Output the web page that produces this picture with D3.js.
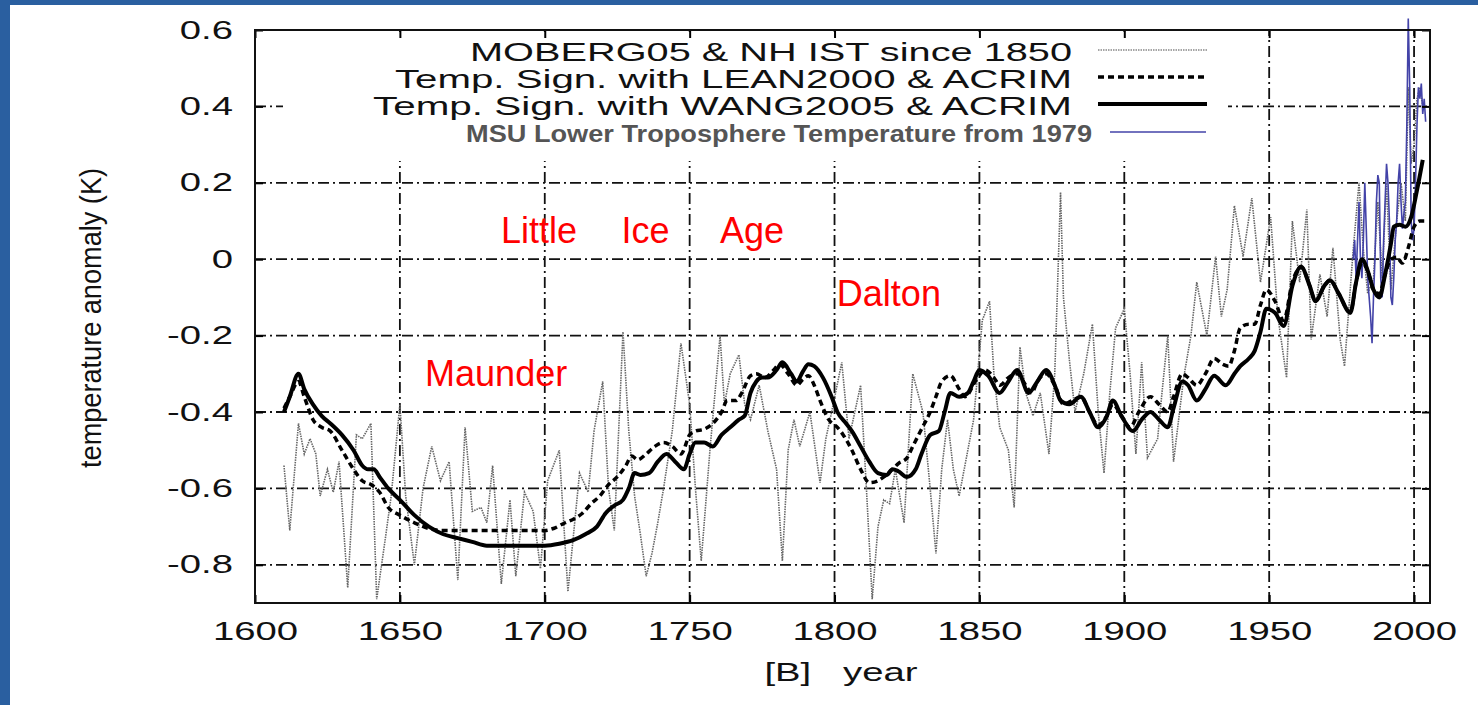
<!DOCTYPE html>
<html>
<head>
<meta charset="utf-8">
<script src="https://cdn.jsdelivr.net/npm/d3@7"></script>
<style>
    html, body { margin: 0; padding: 0; background: #fff; }
    svg { display: block; font-family: 'Liberation Sans', Arial, sans-serif; }
</style>
</head>
<body>
<svg id="Chart"></svg>
<script>
// ---- data ----
let wangYears = [1610, 1612, 1615, 1617, 1620, 1623, 1626, 1630, 1634, 1637, 1639, 1641, 1643, 1646, 1650, 1655, 1660, 1665, 1670, 1675, 1680, 1690, 1700, 1705, 1710, 1714, 1718, 1721, 1724, 1727, 1729, 1731, 1733, 1736, 1739, 1742, 1745, 1748, 1750, 1752, 1755, 1758, 1761, 1764, 1767, 1769, 1771, 1773, 1775, 1777, 1780, 1782, 1785, 1787, 1789, 1791, 1793, 1796, 1799, 1801, 1804, 1806, 1809, 1812, 1815, 1818, 1820, 1822, 1825, 1828, 1830, 1833, 1836, 1838, 1840, 1843, 1846, 1848, 1850, 1853, 1857, 1860, 1863, 1867, 1870, 1873, 1876, 1878, 1881, 1885, 1888, 1891, 1894, 1896, 1899, 1903, 1906, 1909, 1912, 1915, 1917, 1920, 1922, 1925, 1928, 1931, 1935, 1938, 1940, 1943, 1945, 1947, 1949, 1952, 1955, 1958, 1961, 1964, 1966, 1969, 1971, 1974, 1978, 1980, 1982, 1984, 1986, 1988, 1990, 1992, 1993, 1995, 1997, 1999, 2001, 2003];
let wangValues = [-0.40, -0.36, -0.30, -0.34, -0.38, -0.41, -0.43, -0.46, -0.50, -0.54, -0.55, -0.55, -0.57, -0.60, -0.63, -0.67, -0.70, -0.72, -0.73, -0.74, -0.75, -0.75, -0.75, -0.745, -0.735, -0.72, -0.70, -0.665, -0.645, -0.63, -0.60, -0.56, -0.565, -0.56, -0.53, -0.51, -0.53, -0.55, -0.51, -0.48, -0.48, -0.49, -0.46, -0.44, -0.42, -0.41, -0.35, -0.32, -0.31, -0.31, -0.29, -0.27, -0.30, -0.32, -0.295, -0.275, -0.28, -0.31, -0.36, -0.40, -0.43, -0.45, -0.49, -0.53, -0.56, -0.565, -0.55, -0.555, -0.57, -0.55, -0.51, -0.46, -0.45, -0.40, -0.35, -0.36, -0.35, -0.32, -0.29, -0.305, -0.35, -0.32, -0.29, -0.35, -0.32, -0.29, -0.33, -0.37, -0.38, -0.36, -0.40, -0.44, -0.41, -0.37, -0.41, -0.45, -0.42, -0.40, -0.42, -0.44, -0.39, -0.32, -0.33, -0.37, -0.34, -0.305, -0.33, -0.30, -0.28, -0.26, -0.24, -0.19, -0.13, -0.14, -0.175, -0.07, -0.02, -0.07, -0.11, -0.07, -0.055, -0.09, -0.14, -0.06, 0.00, -0.03, -0.08, -0.10, -0.04, 0.04, 0.085, 0.09, 0.085, 0.11, 0.18, 0.26];

let leanYears = [1610, 1612, 1615, 1617, 1620, 1623, 1626, 1630, 1634, 1637, 1640, 1643, 1646, 1650, 1655, 1660, 1665, 1670, 1680, 1690, 1700, 1703, 1707, 1710, 1713, 1716, 1719, 1722, 1725, 1728, 1730, 1732, 1735, 1738, 1741, 1744, 1747, 1750, 1752, 1755, 1758, 1761, 1763, 1766, 1768, 1771, 1773, 1776, 1779, 1781, 1784, 1787, 1789, 1791, 1793, 1795, 1798, 1801, 1803, 1806, 1809, 1812, 1815, 1817, 1820, 1822, 1825, 1827, 1830, 1833, 1835, 1837, 1840, 1843, 1845, 1849, 1852, 1855, 1857, 1860, 1863, 1866, 1868, 1870, 1873, 1876, 1879, 1882, 1885, 1888, 1891, 1894, 1896, 1899, 1902, 1905, 1909, 1912, 1915, 1917, 1920, 1922, 1925, 1928, 1931, 1934, 1936, 1938, 1940, 1943, 1945, 1947, 1949, 1952, 1955, 1958, 1961, 1964, 1966, 1969, 1971, 1974, 1978, 1980, 1982, 1984, 1986, 1988, 1990, 1992, 1994, 1996, 1998, 2000, 2002, 2004];
let leanValues = [-0.39, -0.36, -0.32, -0.36, -0.42, -0.44, -0.45, -0.50, -0.55, -0.58, -0.59, -0.61, -0.65, -0.67, -0.69, -0.705, -0.71, -0.71, -0.71, -0.71, -0.71, -0.705, -0.69, -0.68, -0.665, -0.64, -0.62, -0.59, -0.57, -0.54, -0.515, -0.525, -0.51, -0.49, -0.48, -0.49, -0.51, -0.46, -0.45, -0.445, -0.43, -0.40, -0.37, -0.37, -0.35, -0.305, -0.30, -0.31, -0.29, -0.275, -0.30, -0.33, -0.315, -0.305, -0.33, -0.37, -0.42, -0.44, -0.46, -0.50, -0.55, -0.585, -0.58, -0.57, -0.55, -0.535, -0.52, -0.49, -0.445, -0.40, -0.36, -0.32, -0.305, -0.34, -0.36, -0.315, -0.29, -0.31, -0.33, -0.31, -0.30, -0.33, -0.35, -0.32, -0.30, -0.33, -0.38, -0.37, -0.36, -0.40, -0.435, -0.41, -0.38, -0.41, -0.44, -0.40, -0.36, -0.38, -0.40, -0.36, -0.30, -0.31, -0.33, -0.30, -0.26, -0.275, -0.28, -0.24, -0.18, -0.17, -0.17, -0.12, -0.08, -0.11, -0.16, -0.06, -0.02, -0.07, -0.11, -0.07, -0.055, -0.09, -0.14, -0.06, -0.01, -0.03, -0.08, -0.09, -0.04, 0.00, 0.005, -0.01, 0.03, 0.085, 0.10, 0.10];

let mobergYears = [1610, 1612, 1615, 1617, 1619, 1621, 1622.5, 1625, 1627, 1629, 1632, 1635, 1637, 1640, 1642, 1645, 1647, 1650, 1652, 1655, 1658, 1661, 1664, 1667, 1670, 1672.5, 1675, 1678, 1680, 1682, 1685, 1688, 1690, 1693, 1696, 1698.5, 1701, 1705, 1708, 1712, 1715, 1717, 1720, 1722, 1724, 1727, 1729, 1731, 1733, 1735, 1737, 1739, 1741, 1744, 1747, 1750, 1752, 1754, 1757, 1760.5, 1762, 1764, 1767, 1769, 1771, 1774, 1777, 1780, 1782, 1784, 1786, 1788, 1791.5, 1795, 1797, 1799, 1802.5, 1805, 1809, 1811, 1813, 1815, 1817, 1819, 1821, 1824, 1827, 1830.5, 1833, 1835, 1837, 1839, 1841, 1843, 1846, 1848, 1851, 1853.5, 1855, 1857, 1860, 1862, 1864, 1866, 1868.5, 1871, 1874, 1876, 1878, 1879, 1881, 1883, 1886, 1889, 1891, 1893, 1895, 1897, 1900, 1902, 1904, 1906, 1908, 1911.5, 1913, 1915, 1917, 1920.5, 1923, 1925, 1928.5, 1931.5, 1933.5, 1935.5, 1938, 1941, 1944, 1947, 1950.5, 1953, 1956, 1958, 1960.5, 1963, 1964.5, 1967.5, 1970, 1972, 1974.5, 1976, 1979, 1981, 1982.5, 1984, 1986, 1987.5, 1989, 1990.5, 1992, 1994, 1995.5, 1997, 1998, 1999, 2000, 2001, 2002, 2003];
let mobergValues = [-0.54, -0.71, -0.43, -0.51, -0.47, -0.51, -0.62, -0.55, -0.61, -0.53, -0.86, -0.46, -0.47, -0.43, -0.89, -0.73, -0.62, -0.38, -0.62, -0.80, -0.60, -0.49, -0.58, -0.53, -0.84, -0.44, -0.66, -0.65, -0.69, -0.54, -0.85, -0.63, -0.83, -0.61, -0.66, -0.81, -0.58, -0.50, -0.87, -0.56, -0.61, -0.45, -0.32, -0.60, -0.71, -0.19, -0.45, -0.62, -0.72, -0.83, -0.77, -0.69, -0.60, -0.45, -0.22, -0.38, -0.60, -0.79, -0.50, -0.20, -0.38, -0.30, -0.25, -0.38, -0.42, -0.33, -0.45, -0.55, -0.79, -0.50, -0.42, -0.49, -0.40, -0.585, -0.47, -0.40, -0.27, -0.47, -0.33, -0.60, -0.89, -0.70, -0.63, -0.64, -0.55, -0.69, -0.30, -0.40, -0.60, -0.77, -0.55, -0.42, -0.55, -0.62, -0.50, -0.42, -0.16, -0.11, -0.30, -0.44, -0.50, -0.65, -0.23, -0.35, -0.41, -0.35, -0.51, -0.30, 0.175, -0.10, -0.26, -0.40, -0.30, -0.17, -0.40, -0.56, -0.35, -0.18, -0.13, -0.30, -0.51, -0.27, -0.52, -0.47, -0.35, -0.20, -0.53, -0.31, -0.20, -0.06, -0.20, 0.007, -0.15, -0.08, 0.14, 0.007, 0.16, -0.06, 0.11, -0.15, -0.31, 0.10, -0.06, 0.13, -0.21, -0.04, -0.15, 0.03, -0.21, -0.28, 0.025, 0.20, 0.025, -0.09, -0.05, 0.15, -0.05, 0.20, -0.08, 0.10, 0.20, 0.10, 0.45, 0.25, 0.30, 0.42, 0.45, 0.40];

let msuYears = [1979, 1979.5, 1980, 1980.5, 1981, 1981.5, 1982, 1982.5, 1983, 1983.5, 1984, 1984.5, 1985, 1985.5, 1986, 1986.5, 1987, 1987.5, 1988, 1988.5, 1989, 1989.5, 1990, 1990.5, 1991, 1991.5, 1992, 1992.5, 1993, 1993.5, 1994, 1994.5, 1995, 1995.5, 1996, 1996.5, 1997, 1997.5, 1998, 1998.5, 1999, 1999.5, 2000, 2000.5, 2001, 2001.5, 2002, 2002.5, 2003, 2003.5, 2004];
let msuValues = [0.00, 0.05, -0.05, 0.05, 0.15, 0.00, -0.05, 0.05, 0.20, 0.08, -0.05, -0.10, -0.15, -0.22, -0.10, 0.00, 0.15, 0.22, 0.20, -0.05, -0.10, 0.05, 0.15, 0.25, 0.20, 0.10, -0.10, -0.12, -0.05, 0.05, 0.10, 0.20, 0.25, 0.15, 0.08, 0.12, 0.15, 0.35, 0.63, 0.45, 0.10, 0.05, 0.08, 0.20, 0.35, 0.45, 0.42, 0.46, 0.38, 0.42, 0.36];

let xTicks = [1600, 1650, 1700, 1750, 1800, 1850, 1900, 1950, 2000];
let yTicks = [-0.8, -0.6, -0.4, -0.2, 0, 0.2, 0.4, 0.6];
let yTickLabels = ['-0.8', '-0.6', '-0.4', '-0.2', '0', '0.2', '0.4', '0.6'];

let legendLabels = [
    'MOBERG05 & NH IST since 1850',
    'Temp. Sign. with LEAN2000 & ACRIM',
    'Temp. Sign. with WANG2005 & ACRIM',
    'MSU Lower Troposphere Temperature from 1979'
];

let noteLabels = ['Little', 'Ice', 'Age', 'Dalton', 'Maunder'];
let noteYears = [1684.9, 1726.5, 1760.5, 1800.8, 1658.7];
let noteValues = [0.042, 0.042, 0.042, -0.1225, -0.332];

// the old picture is stretched sideways, so its texts are too
const STRETCH = 1.53;

function zip(xs, ys) {
    return xs.map((x, i) => ({ x: x, y: ys[i] }));
}

function stretchText(selection, k) {
    selection.each(function() {
        let w = this.getComputedTextLength();
        d3.select(this)
            .attr('textLength', w * k)
            .attr('lengthAdjust', 'spacingAndGlyphs');
    });
}

function getConfig() {
    let width = 1478;
    let height = 705;
    let margin = { top: 30, bottom: 102, left: 255, right: 48 };
    let bodyWidth = width - margin.left - margin.right;
    let bodyHeight = height - margin.top - margin.bottom;
    let container = d3.select('#Chart')
        .attr('width', width)
        .attr('height', height);
    return { width, height, margin, bodyWidth, bodyHeight, container };
}

function getScales(config) {
    let { margin, bodyWidth, bodyHeight } = config;
    let xScale = d3.scaleLinear()
        .domain([1600, 2005.5])
        .range([margin.left, margin.left + bodyWidth]);
    let yScale = d3.scaleLinear()
        .domain([-0.9, 0.6])
        .range([margin.top + bodyHeight, margin.top]);
    return { xScale, yScale };
}

function drawBackground(config) {
    let { container, width, height } = config;
    container.append('rect')
        .attr('width', width).attr('height', height)
        .attr('fill', '#fff');
    container.append('rect')
        .attr('width', 10).attr('height', height)
        .attr('fill', '#2a5fa0');
    container.append('rect')
        .attr('width', width).attr('height', 5)
        .attr('fill', '#2a5fa0');
}

function drawGrid(scales, config) {
    let { xScale, yScale } = scales;
    let grid = config.container.append('g')
        .attr('stroke', '#111')
        .attr('stroke-width', 1.8)
        .attr('stroke-dasharray', '11,4,2,4');
    grid.selectAll('.gx').data(xTicks.slice(1))
        .enter().append('line')
        .attr('x1', d => xScale(d)).attr('x2', d => xScale(d))
        .attr('y1', yScale.range()[0]).attr('y2', yScale.range()[1]);
    grid.selectAll('.gy').data(yTicks.slice(0, -1))
        .enter().append('line')
        .attr('y1', d => yScale(d)).attr('y2', d => yScale(d))
        .attr('x1', xScale.range()[0]).attr('x2', xScale.range()[1]);
}

function drawLegendBox(config) {
    // opaque key: blanks the grid behind it
    config.container.append('rect')
        .attr('x', 283).attr('y', 32)
        .attr('width', 945).attr('height', 129)
        .attr('fill', '#fff');
}

function drawSeries(scales, config) {
    let { xScale, yScale } = scales;
    let { container } = config;
    let line = d3.line()
        .x(d => xScale(d.x))
        .y(d => yScale(d.y));
    let smooth = d3.line()
        .curve(d3.curveMonotoneX)
        .x(d => xScale(d.x))
        .y(d => yScale(d.y));

    container.append('path')
        .datum(zip(mobergYears, mobergValues))
        .attr('d', line)
        .attr('fill', 'none')
        .attr('stroke', '#666')
        .attr('stroke-width', 1.6)
        .attr('stroke-dasharray', '1.5,1');

    container.append('path')
        .datum(zip(msuYears, msuValues))
        .attr('d', line)
        .attr('fill', 'none')
        .attr('stroke', '#4343a8')
        .attr('stroke-width', 1.6);

    container.append('path')
        .datum(zip(leanYears, leanValues))
        .attr('d', smooth)
        .attr('fill', 'none')
        .attr('stroke', '#000')
        .attr('stroke-width', 3.5)
        .attr('stroke-dasharray', '6,4');

    container.append('path')
        .datum(zip(wangYears, wangValues))
        .attr('d', smooth)
        .attr('fill', 'none')
        .attr('stroke', '#000')
        .attr('stroke-width', 4);
}

function drawAxes(scales, config) {
    let { xScale, yScale } = scales;
    let { container, margin } = config;
    let bottom = yScale.range()[0];
    let right = xScale.range()[1];

    let axisX = d3.axisBottom(xScale)
        .tickValues(xTicks)
        .tickFormat(d3.format('d'))
        .tickSizeInner(-8).tickSizeOuter(0)
        .tickPadding(19);
    let gx = container.append('g')
        .attr('transform', `translate(0,${bottom})`)
        .call(axisX);

    let axisY = d3.axisLeft(yScale)
        .tickValues(yTicks)
        .tickFormat((d, i) => yTickLabels[i])
        .tickSizeInner(-8).tickSizeOuter(0)
        .tickPadding(22);
    let gy = container.append('g')
        .attr('transform', `translate(${margin.left},0)`)
        .call(axisY);

    let axisTop = d3.axisTop(xScale).tickValues(xTicks)
        .tickSizeInner(-8).tickSizeOuter(0).tickFormat('');
    container.append('g')
        .attr('transform', `translate(0,${margin.top})`)
        .call(axisTop);
    let axisRight = d3.axisRight(yScale).tickValues(yTicks)
        .tickSizeInner(-8).tickSizeOuter(0).tickFormat('');
    container.append('g')
        .attr('transform', `translate(${right},0)`)
        .call(axisRight);

    container.selectAll('.domain').remove();
    container.selectAll('.tick line')
        .attr('stroke', '#000').attr('stroke-width', 2);

    [gx, gy].forEach(g => {
        g.selectAll('text')
            .attr('font-family', "'Liberation Sans', Arial, sans-serif")
            .attr('font-size', 25)
            .attr('fill', '#111');
        stretchText(g.selectAll('text'), STRETCH);
    });

    // frame
    container.append('rect')
        .attr('x', margin.left).attr('y', margin.top)
        .attr('width', right - margin.left)
        .attr('height', bottom - margin.top)
        .attr('fill', 'none')
        .attr('stroke', '#111')
        .attr('stroke-width', 2);

    let xTitle = container.append('text')
        .attr('x', 841).attr('y', 681)
        .attr('text-anchor', 'middle')
        .attr('font-size', 25)
        .attr('fill', '#111')
        .style('white-space', 'pre')
        .text('[B]   year');
    stretchText(xTitle, STRETCH);

    container.append('text')
        .attr('transform', 'translate(101,318) scale(1.4,1) rotate(-90)')
        .attr('text-anchor', 'middle')
        .attr('font-size', 21)
        .attr('fill', '#111')
        .attr('textLength', 300)
        .attr('lengthAdjust', 'spacingAndGlyphs')
        .text('temperature anomaly (K)');
}

function drawLegend(config) {
    let { container } = config;
    let rowY = [61, 88, 115, 142];
    let textEnd = [1072, 1072, 1072, 1092];
    let textWidth = [602, 677, 699, 626];
    let key = container.append('g');

    legendLabels.forEach((label, i) => {
        key.append('text')
            .attr('x', textEnd[i])
            .attr('y', rowY[i])
            .attr('text-anchor', 'end')
            .attr('font-size', i === 3 ? 23 : 25)
            .attr('font-weight', i === 3 ? 'bold' : 'normal')
            .attr('fill', i === 3 ? '#555' : '#111')
            .attr('textLength', textWidth[i])
            .attr('lengthAdjust', 'spacingAndGlyphs')
            .text(label);
    });

    let sampleY = rowY.map(y => y - 11);
    key.append('line')
        .attr('x1', 1098).attr('x2', 1207)
        .attr('y1', sampleY[0]).attr('y2', sampleY[0])
        .attr('stroke', '#888').attr('stroke-width', 1.5)
        .attr('stroke-dasharray', '1.5,1');
    key.append('line')
        .attr('x1', 1098).attr('x2', 1207)
        .attr('y1', sampleY[1]).attr('y2', sampleY[1])
        .attr('stroke', '#000').attr('stroke-width', 3.5)
        .attr('stroke-dasharray', '6,4');
    key.append('line')
        .attr('x1', 1098).attr('x2', 1207)
        .attr('y1', sampleY[2]).attr('y2', sampleY[2])
        .attr('stroke', '#000').attr('stroke-width', 4);
    key.append('line')
        .attr('x1', 1110).attr('x2', 1206)
        .attr('y1', sampleY[3] + 1).attr('y2', sampleY[3] + 1)
        .attr('stroke', '#4343a8').attr('stroke-width', 1.6);
}

function drawNotes(scales, config) {
    let { xScale, yScale } = scales;
    config.container.selectAll('.note').data(noteLabels)
        .enter().append('text')
        .attr('class', 'note')
        .attr('x', (d, i) => xScale(noteYears[i]))
        .attr('y', (d, i) => yScale(noteValues[i]))
        .attr('font-size', 36)
        .attr('fill', '#ff0000')
        .text(d => d);
}

function drawChart() {
    let config = getConfig();
    let scales = getScales(config);
    drawBackground(config);
    drawGrid(scales, config);
    drawLegendBox(config);
    drawSeries(scales, config);
    drawAxes(scales, config);
    drawLegend(config);
    drawNotes(scales, config);
}

drawChart();
</script>
</body>
</html>
